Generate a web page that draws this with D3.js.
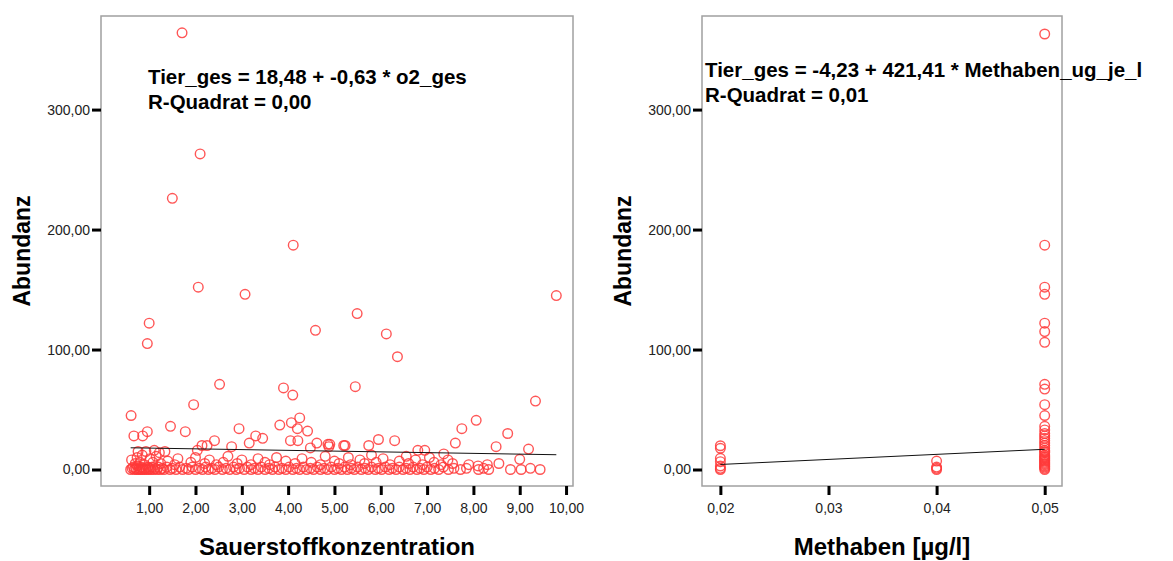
<!DOCTYPE html>
<html>
<head>
<meta charset="utf-8">
<script src="https://cdn.jsdelivr.net/npm/d3@7"></script>
<style>
  body { margin: 0; background: #fff; }
  svg { display: block; font-family: "Liberation Sans", Arial, sans-serif; }
</style>
</head>
<body>
<svg id="chart" width="1173" height="561"></svg>
<script>
// Daten: Sauerstoff (mg/l) und Abundanz
var o2Points = [
  [1.71,364],[2.10,263],[1.50,226],[4.11,187],[2.06,152],[3.07,146],[9.79,145],[5.49,130],
  [1.00,122],[4.59,116],[6.12,113],[0.96,105],[6.36,94],[2.52,71],[3.90,68],[5.45,69],
  [4.10,62],[9.34,57],[1.96,54],[0.61,45],[4.25,43],[8.06,41],[4.07,39],[3.82,37],
  [1.46,36],[7.75,34],[2.94,34],[4.20,34],[4.42,32],[0.96,31.5],[1.78,31.5],[8.74,30],
  [0.67,28],[0.86,28],[3.30,28],[3.45,26],[5.95,25],[6.30,24],[4.05,24],[4.21,24],
  [2.41,24],[3.16,22],[7.61,22],[4.62,22],[4.86,21],[4.90,21],[5.23,20],[2.25,20],
  [2.14,20],[5.74,20],[5.20,20],[4.88,19],[2.78,19],[8.49,19],[9.19,17],[2.04,16],
  [1.11,16],[6.80,16],[6.95,16],[4.48,18],[0.76,15],[0.93,15],[1.22,14],[1.34,15],[7.36,13]
];
var o2Mid = [
  [0.62,8],[0.70,5],[0.74,10],[0.80,6],[0.85,12],[0.90,4],[1.02,9],[1.08,6],[1.15,11],
  [1.25,5],[1.40,7],[1.55,4],[1.62,9],[1.90,6],[2.00,10],[2.20,5],[2.30,8],[2.45,4],
  [2.60,6],[2.70,11],[2.90,5],[3.00,8],[3.20,4],[3.35,9],[3.50,6],[3.60,4],[3.75,10],
  [3.95,7],[4.15,5],[4.30,9],[4.50,6],[4.70,4],[4.80,11],[5.00,7],[5.10,5],[5.30,10],
  [5.35,4],[5.55,8],[5.65,5],[5.80,12],[5.90,6],[6.05,9],[6.20,4],[6.40,7],[6.55,11],
  [6.60,5],[6.75,8],[6.90,4],[7.05,10],[7.15,6],[7.30,4],[7.45,8],[7.55,5],[7.90,4],
  [8.10,3],[8.55,5],[9.00,8.5],[8.30,4]
];
var o2Low = [
  [0.60,0],[0.63,1],[0.66,2],[0.68,0],[0.71,1],[0.73,0],[0.75,3],[0.77,0],[0.79,1],
  [0.81,0],[0.83,2],[0.85,0],[0.87,1],[0.89,0],[0.92,1],[0.94,0],[0.97,2],[0.99,0],
  [1.01,1],[1.04,0],[1.07,2],[1.10,0],[1.13,1],[1.17,0],[1.20,2],[1.24,0],[1.28,1],
  [1.32,0],[1.38,2],[1.45,0],[1.50,1],[1.58,0],[1.66,2],[1.72,0],[1.80,1],[1.85,0],
  [1.93,2],[2.00,0],[2.08,1],[2.15,0],[2.22,2],[2.28,0],[2.35,1],[2.42,0],[2.50,2],
  [2.58,0],[2.66,1],[2.74,0],[2.82,2],[2.88,0],[2.95,1],[3.05,0],[3.12,2],[3.20,0],
  [3.27,1],[3.35,0],[3.42,2],[3.50,0],[3.58,1],[3.66,0],[3.72,2],[3.80,0],[3.87,1],
  [3.95,0],[4.02,2],[4.10,0],[4.18,1],[4.25,0],[4.33,2],[4.40,0],[4.48,1],[4.55,0],
  [4.63,2],[4.70,0],[4.78,1],[4.85,0],[4.93,2],[5.00,0],[5.07,1],[5.15,0],[5.22,2],
  [5.28,0],[5.36,1],[5.43,0],[5.50,2],[5.58,0],[5.66,1],[5.73,0],[5.80,2],[5.88,0],
  [5.95,1],[6.02,0],[6.10,2],[6.18,0],[6.25,1],[6.33,0],[6.40,2],[6.48,0],[6.55,1],
  [6.63,0],[6.70,2],[6.78,0],[6.85,1],[6.93,0],[7.00,2],[7.08,0],[7.16,1],[7.25,0],
  [7.35,2],[7.46,0],[7.58,1],[7.72,0],[7.85,1],[8.11,0],[8.22,1],[8.33,0],[8.80,0],
  [9.03,0],[9.23,1],[9.44,0]
];

// Methaben (µg/l) und Abundanz
var methLevels = [0.02, 0.04, 0.05];
var tierAt002 = [19.8, 17.7, 9.3, 6.5, 2.9, 1, 0];
var tierAt004 = [7, 2, 1, 0];
var tierAt005 = [363, 187, 152, 146, 122, 115, 106, 71, 67, 54, 45, 36, 33, 30, 28, 26, 24,
  22, 20, 18, 16, 15, 14, 12, 11, 10, 9, 8, 7, 6, 5, 4, 3, 2, 1, 0];

// Regression
var fitLeft = { a: 18.48, b: -0.63 };
var fitRight = { a: -4.23, b: 421.41 };
var eqLeft = ["Tier_ges = 18,48 + -0,63 * o2_ges", "R-Quadrat = 0,00"];
var eqRight = ["Tier_ges = -4,23 + 421,41 * Methaben_ug_je_l", "R-Quadrat = 0,01"];

var yTicks = [0, 100, 200, 300];
var o2Ticks = [1, 2, 3, 4, 5, 6, 7, 8, 9, 10];
var methTicks = [0.02, 0.03, 0.04, 0.05];

var de = d3.formatLocale({ decimal: ",", thousands: ".", grouping: [3], currency: ["", "€"] });
var fmt = de.format(".2f");

var svg = d3.select("#chart");

function panel(opt) {
  var x = d3.scaleLinear().domain(opt.xDomain).range([opt.left, opt.right]);
  var y = d3.scaleLinear().domain([-13.75, 378]).range([486, 16]);
  var g = svg.append("g");

  g.append("rect")
    .attr("x", opt.left).attr("y", 16)
    .attr("width", opt.right - opt.left).attr("height", 470)
    .attr("fill", "none").attr("stroke", "#a0a0a0").attr("stroke-width", 1.5);

  var ya = g.append("g").attr("transform", "translate(" + opt.left + ",0)")
    .call(d3.axisLeft(y).tickValues(yTicks).tickSize(9).tickPadding(2).tickFormat(fmt));
  var xa = g.append("g").attr("transform", "translate(0,486)")
    .call(d3.axisBottom(x).tickValues(opt.ticks).tickSize(9).tickPadding(8).tickFormat(fmt));
  [ya, xa].forEach(function(a) {
    a.select(".domain").remove();
    a.selectAll(".tick line").attr("stroke", "#000").attr("stroke-width", 3);
    a.selectAll(".tick text").attr("fill", "#222").style("font-size", "14px")
      .style("font-family", "'Liberation Sans', Arial, sans-serif");
  });

  g.append("g").selectAll("circle")
    .data(opt.points).enter().append("circle")
    .attr("cx", function(d) { return x(d[0]); })
    .attr("cy", function(d) { return y(d[1]); })
    .attr("r", 4.8)
    .attr("fill", "none")
    .attr("stroke", "#ff3838")
    .attr("stroke-opacity", 0.85)
    .attr("stroke-width", 1.4);

  var ext = d3.extent(opt.points, function(d) { return d[0]; });
  g.append("line")
    .attr("x1", x(ext[0])).attr("y1", y(opt.fit.a + opt.fit.b * ext[0]))
    .attr("x2", x(ext[1])).attr("y2", y(opt.fit.a + opt.fit.b * ext[1]))
    .attr("stroke", "#111").attr("stroke-width", 1);

  g.append("g").selectAll("text")
    .data(opt.eq).enter().append("text")
    .attr("x", opt.eqX)
    .attr("y", function(d, i) { return opt.eqY + i * 25; })
    .attr("font-weight", "bold").attr("font-size", 20.5).attr("fill", "#000")
    .text(function(d) { return d; });

  g.append("text")
    .attr("x", (opt.left + opt.right) / 2).attr("y", 555)
    .attr("text-anchor", "middle")
    .attr("font-weight", "bold").attr("font-size", 24)
    .text(opt.xTitle);

  g.append("text")
    .attr("transform", "translate(" + (opt.left - 71) + ",251) rotate(-90)")
    .attr("text-anchor", "middle")
    .attr("font-weight", "bold").attr("font-size", 23)
    .text("Abundanz");
}

var leftPts = o2Low.concat(o2Mid, o2Points);
panel({
  left: 101, right: 573, xDomain: [-0.04, 10.15], ticks: o2Ticks,
  points: leftPts, fit: fitLeft, eq: eqLeft, eqX: 148, eqY: 84,
  xTitle: "Sauerstoffkonzentration"
});

var rightPts = [];
tierAt002.forEach(function(v) { rightPts.push([methLevels[0], v]); });
tierAt004.forEach(function(v) { rightPts.push([methLevels[1], v]); });
tierAt005.forEach(function(v) { rightPts.push([methLevels[2], v]); });
panel({
  left: 702, right: 1062, xDomain: [0.0183, 0.0516], ticks: methTicks,
  points: rightPts, fit: fitRight, eq: eqRight, eqX: 705, eqY: 77,
  xTitle: "Methaben [µg/l]"
});
</script>
</body>
</html>
